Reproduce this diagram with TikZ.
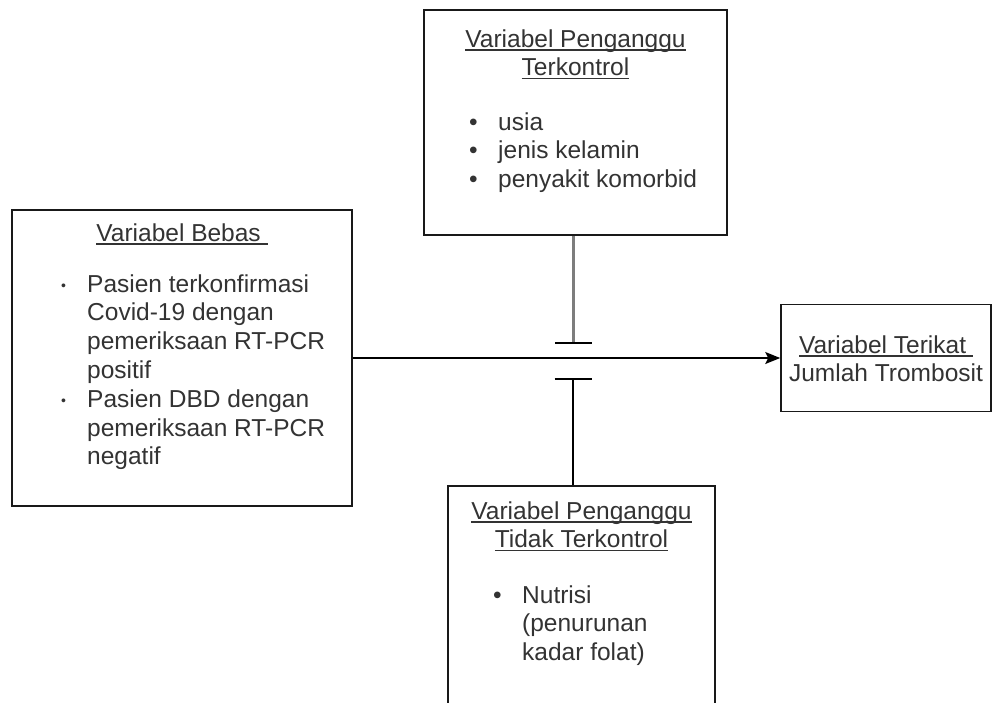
\documentclass[tikz,border=0pt]{standalone}
\usepackage{fontspec}
\setmainfont{Liberation Sans}
\usetikzlibrary{arrows.meta}

\definecolor{garisAbu}{RGB}{125,125,125}

\newcommand{\ulin}[1]{\setbox0\hbox{#1}\rlap{\rule[-3.5pt]{\wd0}{1.6pt}}\box0}
\newcommand{\bul}{\makebox[29pt][l]{\textbullet}}
\newcommand{\tab}{\hspace*{29pt}}
\newcommand{\sbul}{\makebox[26pt][l]{\raisebox{2pt}{\fontsize{14}{14}\selectfont\textbullet}}}
\newcommand{\ind}{\hspace*{26pt}}

\tikzset{
	kotak/.style={draw=black!90, line width=1.6pt, inner sep=0pt},
	teks/.style={inner sep=0pt, text=black!80, font=\fontsize{24.5}{28.8}\selectfont},
	panah/.style={-{Stealth[length=15pt,width=12pt,inset=3pt]}, line width=1.5pt, draw=black},
	tutup/.style={-{Bar[width=37pt,line width=1.6pt,black]}},
}

\begin{document}
\begin{tikzpicture}[x=1pt,y=-1pt]
	\clip (0,0) rectangle (992,702);
	\fill[white] (0,0) rectangle (992,702);

	% kotak
	\node[kotak, minimum width=340pt, minimum height=296pt] (bebas) at (182,358) {};
	\node[kotak, minimum width=303pt, minimum height=225pt] (terkontrol) at (575.5,122.5) {};
	\node[kotak, minimum width=210pt, minimum height=107pt] (terikat) at (886,358) {};
	\node[kotak, minimum width=267pt, minimum height=274pt] (takterkontrol) at (581.5,623) {};

	% teks (base = baris terakhir)
	\node[teks, anchor=base, align=center] (judulBebas) at (182,241) {\ulin{Variabel Bebas\ }};
	\node[teks, anchor=base west, align=left] (isiBebas) at (61,464.8) {\sbul Pasien terkonfirmasi\\ \ind Covid-19 dengan\\ \ind pemeriksaan RT-PCR\\ \ind positif\\ \sbul Pasien DBD dengan\\ \ind pemeriksaan RT-PCR\\ \ind negatif};

	\node[teks, anchor=base, align=center] (judulKontrol) at (575.5,75.8) {\ulin{Variabel Penganggu}\\ \ulin{Terkontrol}};
	\node[teks, anchor=base west, align=left] (isiKontrol) at (469,187.6) {\bul usia\\ \bul jenis kelamin\\ \bul penyakit komorbid};

	\node[teks, anchor=base, align=center] (judulTerikat) at (886,381.8) {\ulin{Variabel Terikat\ }\\ Jumlah Trombosit};

	\node[teks, anchor=base, align=center] (judulTak) at (581.5,547.8) {\ulin{Variabel Penganggu}\\ \ulin{Tidak Terkontrol}};
	\node[teks, anchor=base west, align=left] (isiTak) at (493,660.6) {\bul Nutrisi\\ \tab(penurunan\\ \tab kadar folat)};

	% garis
	\coordinate (capAtas) at (573,344);
	\coordinate (capBawah) at (573,378);
	\draw[panah] (bebas.east) -- (bebas.east -| terikat.west);
	\draw[tutup, draw=garisAbu, line width=3pt] (capAtas |- terkontrol.south) -- (capAtas);
	\draw[tutup, line width=1.5pt] (capBawah |- takterkontrol.north) -- (capBawah);
\end{tikzpicture}
\end{document}
